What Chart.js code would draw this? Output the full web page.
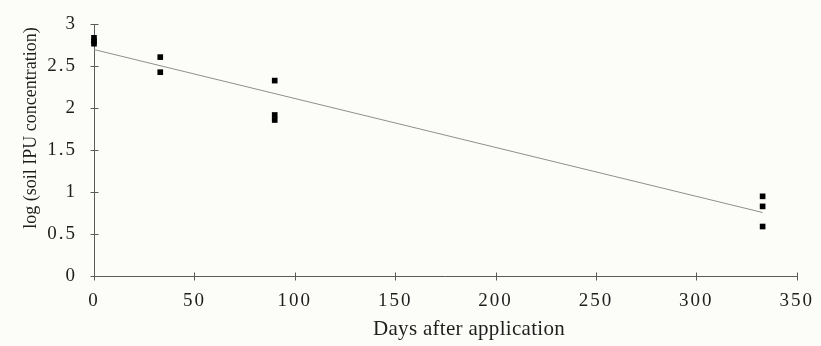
<!DOCTYPE html>
<html>
<head>
<meta charset="utf-8">
<script src="https://cdn.jsdelivr.net/npm/chart.js@4/dist/chart.umd.min.js"></script>
<style>
  html, body { margin: 0; padding: 0; background: #fcfcf9; }
  #wrap { width: 821px; height: 346px; position: relative; }
</style>
</head>
<body>
<div id="wrap"><canvas id="c" width="821" height="346"></canvas></div>
<script>
// ---- Data ----
const obsDays   = [0, 0, 0, 33, 33, 90, 90, 90, 333, 333, 333];
const obsLogIPU = [2.84, 2.80, 2.77, 2.61, 2.43, 2.33, 1.92, 1.86, 0.95, 0.83, 0.59];
const trendDays = [0, 333];
const trendLog  = [2.70, 0.757];
const xTicks = [0, 50, 100, 150, 200, 250, 300, 350];
const yTicks = [0, 0.5, 1, 1.5, 2, 2.5, 3];
const xTitle = 'Days after application';
const yTitle = 'log (soil IPU concentration)';

const FONT = '"Liberation Serif", "Times New Roman", serif';
const INK = '#1e1e1e';
const AXIS = '#5a5a5a';

const obsPoints = obsDays.map((d, i) => ({ x: d, y: obsLogIPU[i] }));
const trendPoints = trendDays.map((d, i) => ({ x: d, y: trendLog[i] }));

const decor = {
  id: 'decor',
  beforeDraw(chart) {
    const ctx = chart.ctx;
    ctx.save();
    ctx.fillStyle = '#fcfcf9';
    ctx.fillRect(0, 0, chart.width, chart.height);
    ctx.restore();
    ctx.letterSpacing = '2px';
  },
  afterDraw(chart) {
    const ctx = chart.ctx;
    const xs = chart.scales.x, ys = chart.scales.y;
    ctx.save();
    ctx.strokeStyle = AXIS;
    ctx.lineWidth = 1;
    ctx.beginPath();
    const ax = Math.round(xs.getPixelForValue(0)) + 0.5;
    yTicks.forEach(v => {
      const py = Math.round(ys.getPixelForValue(v)) + 0.5;
      ctx.moveTo(ax - 4, py); ctx.lineTo(ax + 4, py);
    });
    const ay = Math.round(ys.getPixelForValue(0)) + 0.5;
    xTicks.forEach(v => {
      const px = Math.round(xs.getPixelForValue(v)) + 0.5;
      ctx.moveTo(px, ay - 4); ctx.lineTo(px, ay + 4);
    });
    ctx.stroke();

    ctx.fillStyle = INK;
    ctx.letterSpacing = '0.3px';
    ctx.font = '21px ' + FONT;
    ctx.textAlign = 'center';
    ctx.textBaseline = 'alphabetic';
    ctx.fillText(xTitle, 469, 335);

    ctx.letterSpacing = '0px';
    ctx.font = '18px ' + FONT;
    ctx.translate(36, 128);
    ctx.rotate(-Math.PI / 2);
    ctx.textBaseline = 'alphabetic';
    ctx.fillText(yTitle, 0, 0);
    ctx.restore();
  }
};

new Chart(document.getElementById('c'), {
  type: 'scatter',
  data: {
    datasets: [
      {
        label: 'trend',
        data: trendPoints,
        showLine: true,
        borderColor: '#8f8f8f',
        borderWidth: 1,
        pointRadius: 0,
        fill: false,
        clip: false,
        order: 2
      },
      {
        label: 'observed',
        data: obsPoints,
        pointStyle: 'rect',
        pointRadius: 4,
        pointHoverRadius: 4,
        backgroundColor: '#000',
        borderColor: '#000',
        borderWidth: 0,
        clip: false,
        order: 1
      }
    ]
  },
  options: {
    responsive: false,
    animation: false,
    events: [],
    layout: { padding: { left: 0, right: 20, top: 21, bottom: 0 } },
    plugins: { legend: { display: false }, tooltip: { enabled: false } },
    scales: {
      x: {
        type: 'linear',
        min: 0, max: 350,
        afterBuildTicks: s => { s.ticks = xTicks.map(v => ({ value: v })); },
        afterFit: s => { s.height = 70; },
        grid: { display: false, drawTicks: true, tickLength: 4 },
        border: { display: true, color: AXIS, width: 1 },
        ticks: { color: INK, font: { family: FONT, size: 19 }, padding: 10, maxRotation: 0,
                 callback: v => String(v) },
        title: { display: false, text: xTitle }
      },
      y: {
        type: 'linear',
        min: 0, max: 3,
        afterBuildTicks: s => { s.ticks = yTicks.map(v => ({ value: v })); },
        afterFit: s => { s.width = 94; },
        grid: { display: false, drawTicks: true, tickLength: 4 },
        border: { display: true, color: AXIS, width: 1 },
        ticks: { color: INK, font: { family: FONT, size: 19 }, padding: 13,
                 callback: v => String(v) },
        title: { display: false, text: yTitle }
      }
    }
  },
  plugins: [decor]
});
</script>
</body>
</html>
